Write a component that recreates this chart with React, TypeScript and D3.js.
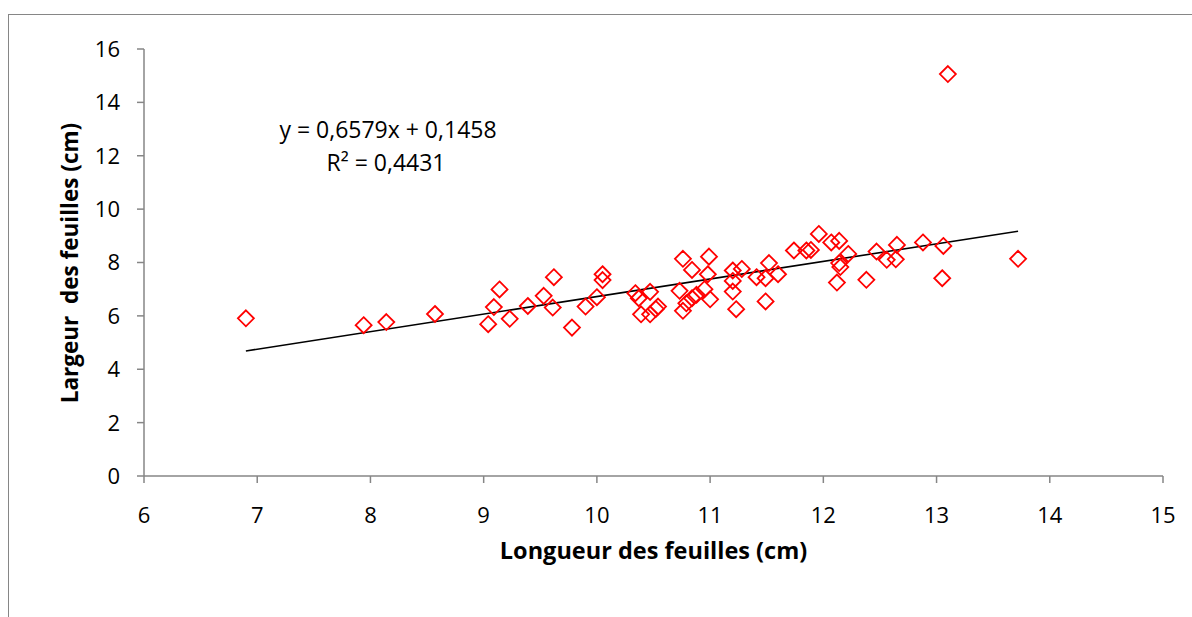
import React from "react";
import * as d3 from "d3";

// Leaf length (cm) for each measured leaf
const longueur: number[] = [
  6.9, 7.94, 8.14, 8.57, 9.04, 9.09, 9.14, 9.23, 9.39, 9.53, 9.61, 9.62, 9.78,
  9.9, 10.0, 10.05, 10.05, 10.34, 10.37, 10.47, 10.39, 10.47, 10.54, 10.52,
  10.76, 10.84, 10.99, 10.73, 10.76, 10.79, 10.84, 10.88, 10.95, 10.98, 11.0,
  11.2, 11.2, 11.2, 11.28, 11.23, 11.41, 11.49, 11.52, 11.49, 11.6, 11.74,
  11.96, 11.85, 11.89, 12.07, 12.14, 12.22, 12.14, 12.15, 12.12, 12.38, 12.47,
  12.56, 12.65, 12.64, 12.88, 13.06, 13.05, 13.72, 13.1,
];

// Leaf width (cm), same order
const largeur: number[] = [
  5.91, 5.65, 5.77, 6.07, 5.69, 6.33, 6.99, 5.89, 6.37, 6.75, 6.31, 7.45, 5.56,
  6.35, 6.7, 7.56, 7.34, 6.85, 6.66, 6.9, 6.06, 6.06, 6.35, 6.26, 8.14, 7.72,
  8.22, 6.94, 6.19, 6.47, 6.66, 6.79, 7.0, 7.56, 6.62, 7.7, 7.31, 6.91, 7.76,
  6.25, 7.45, 7.41, 7.98, 6.54, 7.56, 8.45, 9.07, 8.45, 8.47, 8.75, 8.81, 8.32,
  7.98, 7.83, 7.25, 7.35, 8.41, 8.1, 8.66, 8.12, 8.75, 8.62, 7.41, 8.14, 15.06,
];

const xTicks: number[] = [6, 7, 8, 9, 10, 11, 12, 13, 14, 15];
const yTicks: number[] = [0, 2, 4, 6, 8, 10, 12, 14, 16];

// Linear trend line coefficients
const slope = 0.6579;
const intercept = 0.1458;
const equationLabel = "y = 0,6579x + 0,1458";
const r2Label = "R² = 0,4431";

const FONT = "'Open Sans', Lato, sans-serif";
const GRAY = "#868686";

export default function App() {
  const width = 1192;
  const height = 617;
  const x = d3.scaleLinear().domain([6, 15]).range([144, 1163]);
  const y = d3.scaleLinear().domain([0, 16]).range([476, 49]);

  const points = longueur.map((lx, i) => ({ lx, ly: largeur[i] }));
  const [xMin, xMax] = d3.extent(longueur) as [number, number];
  const trend = d3
    .line<number>()
    .x((v) => x(v))
    .y((v) => y(slope * v + intercept));

  const diamond = (cx: number, cy: number, r: number) =>
    `M${cx},${cy - r}L${cx + r},${cy}L${cx},${cy + r}L${cx - r},${cy}Z`;

  return (
    <svg
      width={width}
      height={height}
      style={{ position: "absolute", left: 0, top: 0, background: "#fff" }}
      fontFamily={FONT}
    >
      {/* chart area frame */}
      <rect x={8.5} y={14.5} width={1200} height={700} fill="none" stroke={GRAY} strokeWidth={1} />

      {/* y axis */}
      <line x1={x(6)} x2={x(6)} y1={y(16)} y2={y(0)} stroke={GRAY} strokeWidth={1.5} />
      {yTicks.map((t) => (
        <g key={`y${t}`}>
          <line x1={x(6) - 7} x2={x(6)} y1={y(t)} y2={y(t)} stroke={GRAY} strokeWidth={1.5} />
          <text x={120} y={y(t)} dy="0.36em" textAnchor="end" fontSize={22} fill="#000">
            {t}
          </text>
        </g>
      ))}

      {/* x axis */}
      <line x1={x(6)} x2={x(15)} y1={y(0)} y2={y(0)} stroke={GRAY} strokeWidth={1.5} />
      {xTicks.map((t) => (
        <g key={`x${t}`}>
          <line x1={x(t)} x2={x(t)} y1={y(0)} y2={y(0) + 7} stroke={GRAY} strokeWidth={1.5} />
          <text x={x(t)} y={515} dy="0.36em" textAnchor="middle" fontSize={22} fill="#000">
            {t}
          </text>
        </g>
      ))}

      {/* axis titles */}
      <text x={(x(6) + x(15)) / 2} y={551} dy="0.36em" textAnchor="middle" fontSize={23.5} fontWeight="bold">
        Longueur des feuilles (cm)
      </text>
      <text
        transform={`translate(70, ${263}) rotate(-90)`}
        dy="0.36em"
        textAnchor="middle"
        fontSize={22.5}
        fontWeight="bold"
        style={{ whiteSpace: "pre" }}
      >
        {"Largeur  des feuilles (cm)"}
      </text>

      {/* trend line */}
      <path d={trend([xMin, xMax]) ?? ""} fill="none" stroke="#000" strokeWidth={1.6} />

      {/* data points */}
      {points.map((p, i) => (
        <path
          key={i}
          d={diamond(x(p.lx), y(p.ly), 8)}
          fill="none"
          stroke="#ff0000"
          strokeWidth={1.8}
        />
      ))}

      {/* regression labels */}
      <text x={388} y={130} dy="0.36em" textAnchor="middle" fontSize={23}>
        {equationLabel}
      </text>
      <text x={386} y={163} dy="0.36em" textAnchor="middle" fontSize={23}>
        {r2Label}
      </text>
    </svg>
  );
}
